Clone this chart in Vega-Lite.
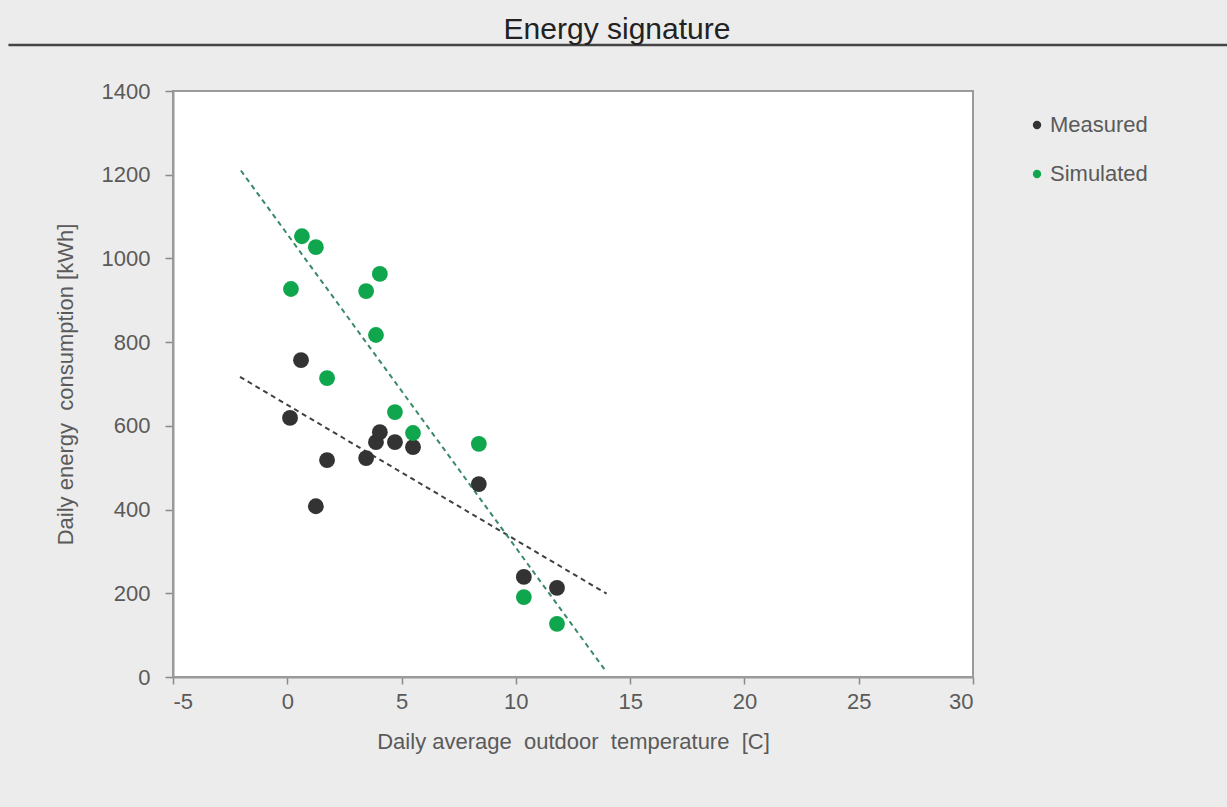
{
  "$schema": "https://vega.github.io/schema/vega-lite/v6.json",
  "width": 800,
  "height": 586,
  "autosize": {"type": "none"},
  "padding": {"left": 173, "top": 91, "right": 254, "bottom": 130},
  "background": "#ececec",
  "title": {
    "text": "Energy signature",
    "anchor": "middle",
    "frame": "group",
    "dx": 44,
    "offset": -25,
    "baseline": "alphabetic",
    "fontSize": 30,
    "fontWeight": "normal",
    "font": "Liberation Sans",
    "color": "#222222"
  },
  "datasets": {
    "points": [
      {"series": "Measured", "temp": 0.12, "energy": 619},
      {"series": "Measured", "temp": 0.6, "energy": 757},
      {"series": "Measured", "temp": 1.25, "energy": 408},
      {"series": "Measured", "temp": 1.74, "energy": 518},
      {"series": "Measured", "temp": 3.45, "energy": 523},
      {"series": "Measured", "temp": 3.88, "energy": 561},
      {"series": "Measured", "temp": 4.05, "energy": 585},
      {"series": "Measured", "temp": 4.71, "energy": 561},
      {"series": "Measured", "temp": 5.5, "energy": 549},
      {"series": "Measured", "temp": 8.38, "energy": 461},
      {"series": "Measured", "temp": 10.35, "energy": 239},
      {"series": "Measured", "temp": 11.8, "energy": 213},
      {"series": "Simulated", "temp": 0.16, "energy": 927},
      {"series": "Simulated", "temp": 0.64, "energy": 1053},
      {"series": "Simulated", "temp": 1.25, "energy": 1027},
      {"series": "Simulated", "temp": 1.74, "energy": 714},
      {"series": "Simulated", "temp": 3.45, "energy": 922},
      {"series": "Simulated", "temp": 4.05, "energy": 963},
      {"series": "Simulated", "temp": 3.88, "energy": 817},
      {"series": "Simulated", "temp": 4.71, "energy": 633},
      {"series": "Simulated", "temp": 5.5, "energy": 583},
      {"series": "Simulated", "temp": 8.38, "energy": 557},
      {"series": "Simulated", "temp": 10.35, "energy": 191},
      {"series": "Simulated", "temp": 11.8, "energy": 127}
    ],
    "trend": [
      {"series": "Measured", "temp": -2.07, "energy": 717},
      {"series": "Measured", "temp": 13.97, "energy": 199},
      {"series": "Simulated", "temp": -2.03, "energy": 1210},
      {"series": "Simulated", "temp": 13.95, "energy": 13}
    ]
  },
  "layer": [
    {
      "data": {"values": [{"frame": "title rule"}]},
      "mark": {"type": "rule", "color": "#444444", "strokeWidth": 2.5},
      "encoding": {
        "x": {"datum": -12.2, "type": "quantitative", "scale": {"domain": [-5, 30], "nice": false}},
        "x2": {"datum": 41.2},
        "y": {"datum": 1510, "type": "quantitative", "scale": {"domain": [0, 1400], "nice": false}}
      }
    },
    {
      "data": {"name": "trend"},
      "mark": {"type": "line", "strokeDash": [5, 4], "strokeWidth": 2},
      "encoding": {
        "x": {"field": "temp", "type": "quantitative", "title": "Daily average\u00a0 outdoor\u00a0 temperature\u00a0 [C]"},
        "y": {"field": "energy", "type": "quantitative", "title": "Daily energy\u00a0 consumption [kWh]"},
        "detail": {"field": "series"},
        "color": {
          "field": "series",
          "type": "nominal",
          "scale": {"domain": ["Measured", "Simulated"], "range": ["#404040", "#3a8a66"]},
          "legend": null
        }
      }
    },
    {
      "data": {"name": "points"},
      "mark": {"type": "point", "filled": true, "opacity": 1, "size": 250},
      "encoding": {
        "x": {
          "field": "temp",
          "type": "quantitative",
          "title": "Daily average\u00a0 outdoor\u00a0 temperature\u00a0 [C]",
          "scale": {"domain": [-5, 30], "nice": false},
          "axis": {"values": [-5, 0, 5, 10, 15, 20, 25, 30], "labelExpr": "'' + datum.value"}
        },
        "y": {
          "field": "energy",
          "type": "quantitative",
          "title": "Daily energy\u00a0 consumption [kWh]",
          "scale": {"domain": [0, 1400], "nice": false},
          "axis": {"values": [0, 200, 400, 600, 800, 1000, 1200, 1400], "labelExpr": "'' + datum.value"}
        },
        "color": {
          "field": "series",
          "type": "nominal",
          "scale": {"domain": ["Measured", "Simulated"], "range": ["#333333", "#10a64e"]},
          "legend": {
            "orient": "none",
            "legendX": 853,
            "legendY": 23,
            "title": null,
            "labelFontSize": 22,
            "labelColor": "#5a5a5a",
            "labelFont": "Liberation Sans",
            "symbolSize": 70,
            "symbolType": "circle",
            "rowPadding": 27,
            "labelOffset": 2,
            "padding": 0,
            "symbolStrokeWidth": 0
          }
        }
      }
    }
  ],
  "resolve": {"scale": {"color": "independent"}},
  "config": {
    "font": "Liberation Sans",
    "view": {"fill": "white", "stroke": "#9a9a9a", "strokeWidth": 2},
    "axis": {
      "gridColor": "#cccccc",
      "gridDash": [6, 4],
      "gridWidth": 1,
      "domainColor": "#9a9a9a",
      "domainWidth": 2,
      "tickColor": "#8a8a8a",
      "tickWidth": 1.5,
      "labelFont": "Liberation Sans",
      "labelFontSize": 22,
      "labelColor": "#5a5a5a",
      "titleFont": "Liberation Sans",
      "titleFontSize": 22,
      "titleFontWeight": "normal",
      "titleColor": "#5a5a5a"
    },
    "axisX": {"tickSize": 7, "labelPadding": 7, "titlePadding": 19},
    "axisY": {"tickSize": 8, "labelPadding": 15, "titlePadding": 24}
  }
}
